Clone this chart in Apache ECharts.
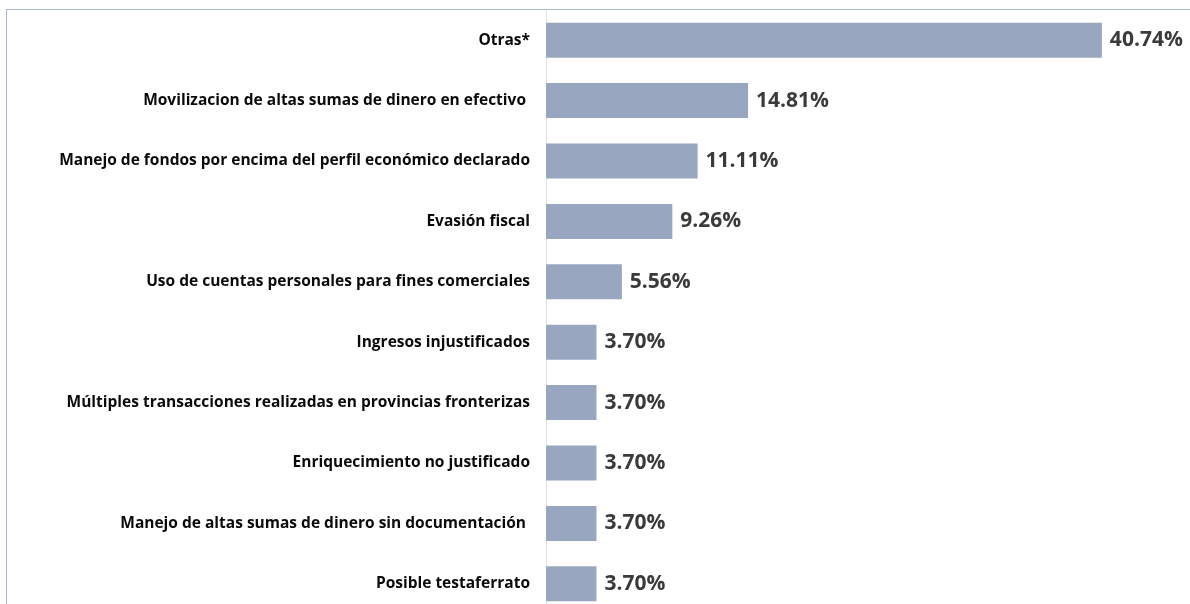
<!DOCTYPE html>
<html><head><meta charset="utf-8">
<script src="https://cdn.jsdelivr.net/npm/echarts@6/dist/echarts.min.js"></script>
<style>
html,body{margin:0;padding:0;background:#fff;overflow:hidden;width:1190px;height:604px;}
#frame{position:absolute;left:6px;top:9px;width:1184px;height:595px;border-top:1px solid #aab6cc;border-left:1px solid #aab6cc;}
#c{position:absolute;left:0;top:0;width:1190px;height:640px;}
</style></head>
<body>
<div id="frame"></div>
<div id="c"></div>
<script>
const categories = [
  "Otras*",
  "Movilizacion de altas sumas de dinero en efectivo ",
  "Manejo de fondos por encima del perfil económico declarado",
  "Evasión fiscal",
  "Uso de cuentas personales para fines comerciales",
  "Ingresos injustificados",
  "Múltiples transacciones realizadas en provincias fronterizas",
  "Enriquecimiento no justificado",
  "Manejo de altas sumas de dinero sin documentación ",
  "Posible testaferrato"
];
const values = [40.74, 14.81, 11.11, 9.26, 5.56, 3.70, 3.70, 3.70, 3.70, 3.70];

const chart = echarts.init(document.getElementById('c'), null, {renderer:'canvas'});
chart.setOption({
  animation:false,
  backgroundColor:'transparent',
  grid:{left:546, top:10, width:614, height:604, containLabel:false},
  xAxis:{type:'value', min:0, max:45, show:false},
  yAxis:{
    type:'category', inverse:true, data:categories,
    axisLine:{show:true, lineStyle:{color:'#e3e3e3', width:1}},
    axisTick:{show:false},
    axisLabel:{margin:16, color:'#0a0a0a', fontFamily:'Open Sans', fontWeight:'bold', fontSize:15.5}
  },
  series:[{
    type:'bar', data:values, barWidth:35,
    itemStyle:{color:'#98a6bf'},
    label:{show:true, position:'right', distance:8, color:'#3a3a3a', fontFamily:'Open Sans', fontWeight:'bold', fontSize:21,
      formatter:p=>p.value.toFixed(2)+'%'}
  }]
});
</script>
</body></html>
